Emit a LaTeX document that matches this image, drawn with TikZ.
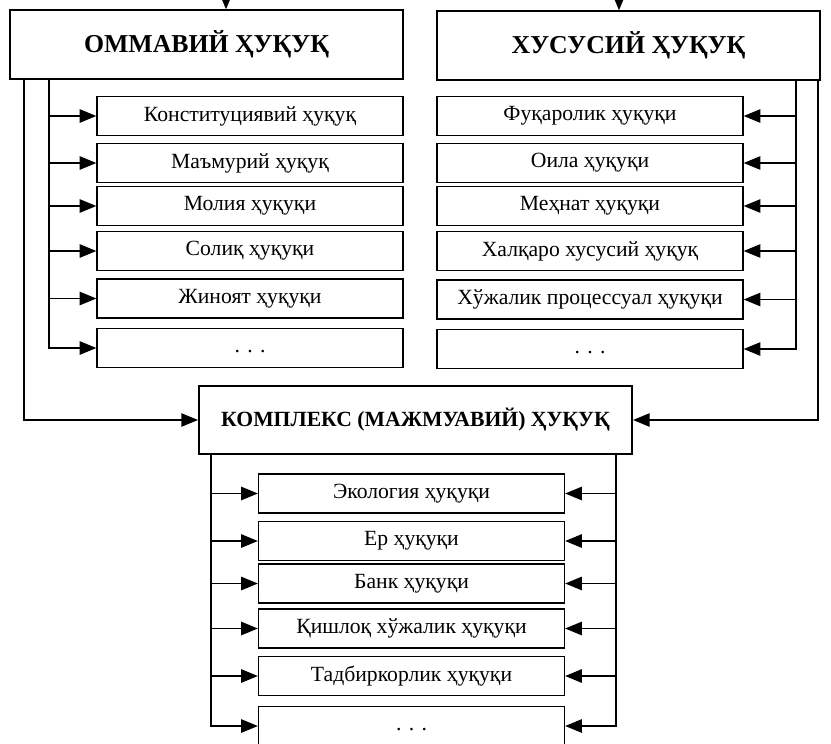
\documentclass[tikz,border=0pt]{standalone}
\usepackage{fontspec}
\setmainfont{Liberation Serif}
\usetikzlibrary{arrows.meta,positioning,calc}

\newcommand{\etcdots}{\smash{\raisebox{-1.2mm}{.\hspace{2.2mm}.\hspace{2.2mm}.}}}

\begin{document}
\begin{tikzpicture}[x=0.03cm,y=-0.03cm,
	head/.style={draw,line width=1.7pt,inner sep=0pt,minimum height=2.05cm,font=\fontsize{22}{26}\selectfont\bfseries},
	item/.style={draw,line width=1.1pt,inner sep=0pt,minimum width=9.18cm,minimum height=1.17cm,font=\fontsize{18.5}{22}\selectfont},
	arr/.style={line width=1.3pt,-{Triangle[length=5mm,width=4mm]}}]
	\useasboundingbox (0,0) rectangle (831,743);
	\node[head,minimum width=11.79cm] (om) at (206.5,44.5) {ОММАВИЙ ҲУҚУҚ};
	\node[head,minimum width=11.49cm] (xu) at (628.5,45.5) {ХУСУСИЙ ҲУҚУҚ};
	\node[head,minimum width=12.99cm,font=\fontsize{18.5}{22}\selectfont\bfseries] (km) at (415.5,420) {КОМПЛЕКС (МАЖМУАВИЙ) ҲУҚУҚ};
	\coordinate (otop) at ($(om.north)+(19.5,-25)$);
	\coordinate (xtop) at ($(xu.north)+(-9.5,-25)$);
	\draw[arr] (otop) -- (otop |- om.north);
	\draw[arr] (xtop) -- (xtop |- xu.north);
	\coordinate (lbus) at ($(om.south west)+(40,0)$);
	\coordinate (lout) at ($(om.south west)+(15,0)$);
	\coordinate (rbus) at ($(xu.south east)+(-25,0)$);
	\coordinate (rout) at ($(xu.south east)+(-3,0)$);
	\coordinate (kl) at ($(km.south west)+(13,0)$);
	\coordinate (kr) at ($(km.south east)+(-17,0)$);
	\foreach \t/\y [count=\i] in {Конституциявий ҳуқуқ/116,Маъмурий ҳуқуқ/163,Молия ҳуқуқи/206,Солиқ ҳуқуқи/251,Жиноят ҳуқуқи/298.5,\etcdots/348}{
		\node[item] (l\i) at (250,\y) {\t};
		\draw[arr] (lbus) |- (l\i.west);
	}
	\foreach \t/\y [count=\i] in {Фуқаролик ҳуқуқи/116,Оила ҳуқуқи/163,Меҳнат ҳуқуқи/206,Халқаро хусусий ҳуқуқ/251,Хўжалик процессуал ҳуқуқи/299.5,\etcdots/349}{
		\node[item] (r\i) at (590,\y) {\t};
		\draw[arr] (rbus) |- (r\i.east);
	}
	\foreach \t/\y [count=\i] in {Экология ҳуқуқи/493.5,Ер ҳуқуқи/541,Банк ҳуқуқи/583.5,Қишлоқ хўжалик ҳуқуқи/628.5,Тадбиркорлик ҳуқуқи/676,\etcdots/726}{
		\node[item] (k\i) at (411.5,\y) {\t};
		\draw[arr] (kl) |- (k\i.west);
		\draw[arr] (kr) |- (k\i.east);
	}
	\draw[arr] (lout) |- (km.west);
	\draw[arr] (rout) |- (km.east);
\end{tikzpicture}
\end{document}
